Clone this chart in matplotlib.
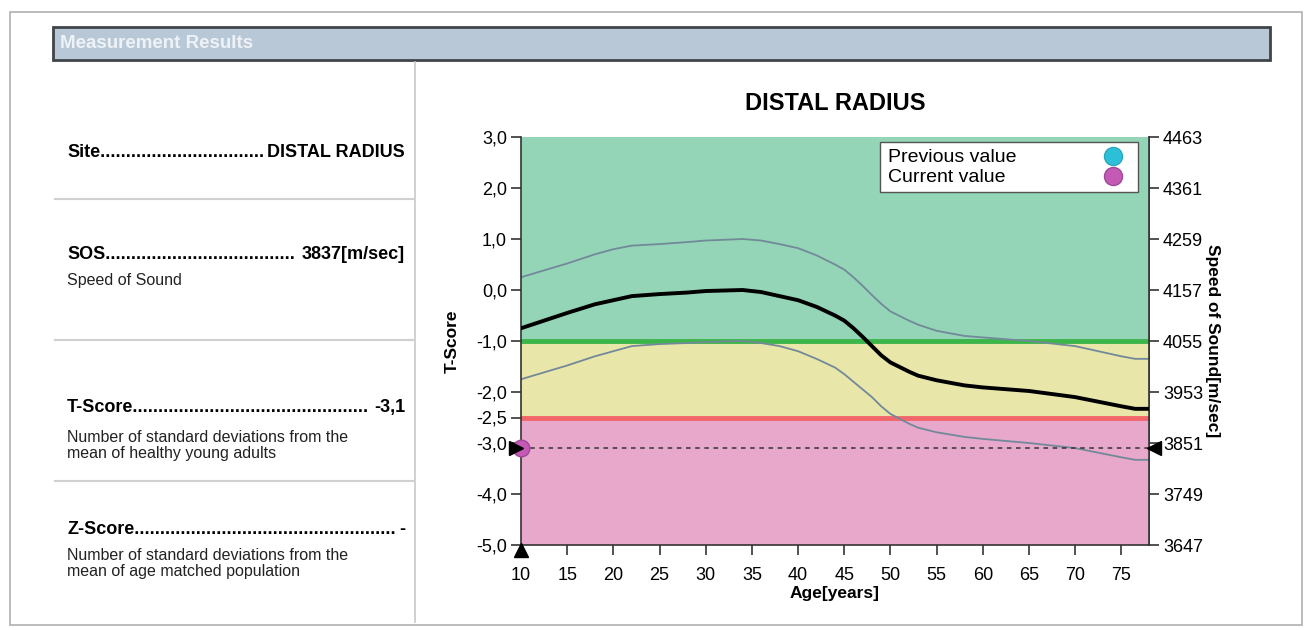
import matplotlib
matplotlib.use("Agg")
import matplotlib.pyplot as plt
from matplotlib.patches import Rectangle
from matplotlib.lines import Line2D

plt.rcParams['font.family'] = ['Liberation Sans', 'DejaVu Sans']

# ---- data ----
ages = [10, 15, 18, 20, 22, 25, 28, 30, 34, 36, 38, 40, 42, 44, 45, 46, 47, 48, 49, 50,
        52, 53, 55, 58, 60, 65, 70, 75, 76.5, 78]
mean_t = [-0.75, -0.45, -0.28, -0.2, -0.12, -0.08, -0.05, -0.02, 0.0, -0.04, -0.12, -0.2,
          -0.33, -0.5, -0.6, -0.75, -0.92, -1.1, -1.28, -1.42, -1.6, -1.68, -1.77, -1.87,
          -1.91, -1.98, -2.1, -2.28, -2.33, -2.33]
upper_t = [0.25, 0.52, 0.7, 0.8, 0.87, 0.9, 0.94, 0.97, 1.0, 0.97, 0.9, 0.82, 0.68, 0.5,
           0.4, 0.25, 0.08, -0.1, -0.27, -0.42, -0.6, -0.68, -0.8, -0.9, -0.93, -1.0, -1.1,
           -1.3, -1.35, -1.35]
lower_t = [-1.75, -1.48, -1.3, -1.2, -1.1, -1.06, -1.04, -1.02, -1.0, -1.04, -1.1, -1.2,
           -1.35, -1.52, -1.65, -1.8, -1.95, -2.1, -2.28, -2.43, -2.62, -2.7, -2.79, -2.88,
           -2.92, -3.0, -3.1, -3.28, -3.33, -3.33]
current_age = 10
current_t = -3.1
y_ticks = [3.0, 2.0, 1.0, 0.0, -1.0, -2.0, -2.5, -3.0, -4.0, -5.0]
y_tick_labels = ["3,0", "2,0", "1,0", "0,0", "-1,0", "-2,0", "-2,5", "-3,0", "-4,0", "-5,0"]
x_ticks = [10, 15, 20, 25, 30, 35, 40, 45, 50, 55, 60, 65, 70, 75]
sos_ticks = [4463, 4361, 4259, 4157, 4055, 3953, 3851, 3749, 3647]
legend_labels = ["Previous value", "Current value"]
legend_colors = ['#2cc0d8', '#c45ab5']
legend_edges = ['#2aa8c0', '#a04898']

W, H = 1309, 630
fig = plt.figure(figsize=(W / 100, H / 100), dpi=100)
fig.patch.set_facecolor('white')

def fx(x):
    return x / W

def fy(y):
    return 1 - y / H

# outer frame
fig.add_artist(Rectangle((fx(10), fy(625)), fx(1292), (625 - 12) / H, transform=fig.transFigure,
                         fill=False, edgecolor='#b0b0b0', lw=1.2))
# header bar
fig.add_artist(Rectangle((fx(53), fy(60)), fx(1217), 33 / H, transform=fig.transFigure,
                         facecolor='#b9c8d6', edgecolor='#404448', lw=2))
fig.text(fx(60), fy(44), "Measurement Results", color='#eef2f6', fontsize=13.5, fontweight='bold',
         va='center', ha='left')
# panel separators
fig.add_artist(Line2D([fx(415), fx(415)], [fy(62), fy(622)], transform=fig.transFigure,
                      color='#c8c8c8', lw=1.2))
for yy in [199, 340, 481]:
    fig.add_artist(Line2D([fx(55), fx(413)], [fy(yy), fy(yy)], transform=fig.transFigure,
                          color='#d0d0d0', lw=1.5))

renderer = fig.canvas.get_renderer()

def dotted_row(label, value, y, x0=67, x1=405, size=13):
    t1 = fig.text(fx(x0), fy(y), label, fontsize=size, fontweight='bold', va='baseline', ha='left')
    t2 = fig.text(fx(x1), fy(y), value, fontsize=size, fontweight='bold', va='baseline', ha='right')
    w1 = t1.get_window_extent(renderer).width
    w2 = t2.get_window_extent(renderer).width
    avail = (x1 - x0) - w1 - w2 - 2
    probe = fig.text(0, 0, "." * 20, fontsize=size, fontweight='bold')
    dw = probe.get_window_extent(renderer).width / 20
    probe.remove()
    n = max(0, int(avail / dw))
    t1.set_text(label + "." * n)

sub = dict(fontsize=11.5, va='baseline', color='#222222')
dotted_row("Site", "DISTAL RADIUS", 157)
dotted_row("SOS", "3837[m/sec]", 259)
fig.text(fx(67), fy(285), "Speed of Sound", **sub)
dotted_row("T-Score", "-3,1", 412)
fig.text(fx(67), fy(442), "Number of standard deviations from the", **sub)
fig.text(fx(67), fy(458), "mean of healthy young adults", **sub)
dotted_row("Z-Score", "-", 534)
fig.text(fx(67), fy(560), "Number of standard deviations from the", **sub)
fig.text(fx(67), fy(576), "mean of age matched population", **sub)

# ---- chart ----
ax = fig.add_axes([fx(521), fy(545), (1149 - 521) / W, (545 - 137) / H])
xmin, xmax = 10, 78
ax.set_xlim(xmin, xmax)
ax.set_ylim(-5, 3)
ax.axhspan(-1, 3, color='#93d5b6', zorder=0)
ax.axhspan(-2.5, -1, color='#e9e6aa', zorder=0)
ax.axhspan(-5, -2.5, color='#e8a8cb', zorder=0)
ax.axhline(-1, color='#3cb54a', lw=3.5, zorder=1)
ax.axhline(-2.5, color='#f2666a', lw=3.5, zorder=1)

ax.plot(ages, upper_t, color='#72899a', lw=1.3, zorder=2, solid_joinstyle='round')
ax.plot(ages, lower_t, color='#72899a', lw=1.3, zorder=2, solid_joinstyle='round')
ax.plot(ages, mean_t, color='black', lw=2.8, zorder=3, solid_joinstyle='round')
ax.axhline(current_t, color='#333333', lw=1.1, ls=(0, (3, 3)), zorder=3)
ax.plot([current_age], [current_t], 'o', ms=12, color='#c45ab5', mec='#a04898', zorder=5, clip_on=False)
ax.plot([xmin - 0.5], [current_t], marker='>', ms=10, color='black', clip_on=False, zorder=6)
ax.plot([xmax + 0.5], [current_t], marker='<', ms=10, color='black', clip_on=False, zorder=6)
ax.plot([current_age], [-5.1], marker='^', ms=10, color='black', clip_on=False, zorder=6)

ax.spines['top'].set_visible(False)
for s in ['left', 'right', 'bottom']:
    ax.spines[s].set_color('#333333')
    ax.spines[s].set_linewidth(1.2)

ax.set_yticks(y_ticks)
ax.set_yticklabels(y_tick_labels)
ax.set_xticks(x_ticks)
ax.set_xticklabels([str(v) for v in x_ticks])
ax.tick_params(axis='y', labelsize=13, length=7, width=1.2, color='#333333', pad=3)
ax.tick_params(axis='x', labelsize=13, length=7, width=1.2, color='#333333', pad=9)
ax.set_xlabel("Age[years]", fontsize=12.5, fontweight='bold', labelpad=1)
ax.set_ylabel("T-Score", fontsize=12.5, fontweight='bold', labelpad=0)
ax.yaxis.set_label_coords(-0.098, 0.5)

ax2 = ax.twinx()
ax2.set_ylim(3647, 4463)
ax2.set_yticks(sos_ticks)
ax2.set_yticklabels([str(v) for v in sos_ticks])
ax2.tick_params(axis='y', labelsize=13, length=7, width=1.2, color='#333333', pad=3)
for s in ['top', 'left', 'bottom']:
    ax2.spines[s].set_visible(False)
ax2.spines['right'].set_color('#333333')
ax2.spines['right'].set_linewidth(1.2)
ax2.set_ylabel("Speed of Sound[m/sec]", fontsize=12.5, fontweight='bold', rotation=-90)
ax2.yaxis.set_label_coords(1.113, 0.5)

fig.text(fx(835), fy(103), "DISTAL RADIUS", fontsize=17, fontweight='bold', ha='center', va='center')

# legend (manual, left-aligned text with markers on the right)
fig.add_artist(Rectangle((fx(880), fy(192)), (1138 - 880) / W, 50 / H, transform=fig.transFigure,
                         facecolor='white', edgecolor='#555555', lw=1.0, zorder=10))
for i, (lab, col, ec) in enumerate(zip(legend_labels, legend_colors, legend_edges)):
    yb = 162 + i * 20
    fig.text(fx(888), fy(yb), lab, fontsize=14, va='baseline', ha='left', zorder=11)
    fig.add_artist(Line2D([fx(1113)], [fy(yb - 6)], transform=fig.transFigure, marker='o', ls='none',
                          ms=13, color=col, mec=ec, zorder=11))

ax2.set_zorder(ax.get_zorder() - 1)
ax.patch.set_visible(False)

fig.savefig("out.png", dpi=100)
